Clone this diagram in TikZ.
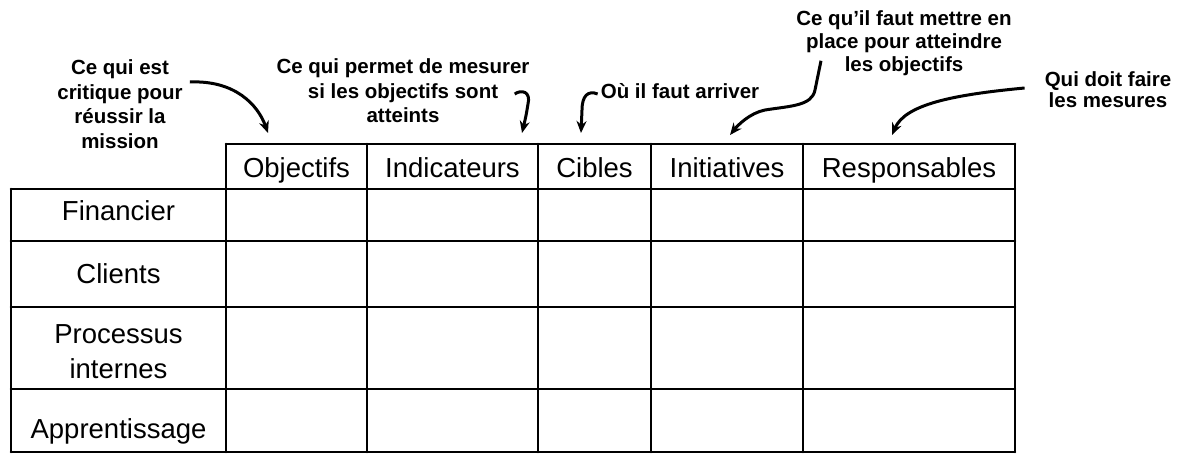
\documentclass[tikz,border=0pt]{standalone}
\usepackage{fontspec}
\setmainfont{Liberation Sans}
\usepackage{tikz}
\usetikzlibrary{arrows.meta, positioning}

\begin{document}
\begin{tikzpicture}[
    x=1pt, y=-1pt,
    cell/.style={inner sep=0pt, anchor=base, align=center, font=\fontsize{27.5}{35}\selectfont},
    annot/.style={inner sep=0pt, align=center, font=\fontsize{20.5}{24.5}\selectfont\bfseries},
    tableline/.style={line width=2.6pt, line cap=round},
    arrow/.style={-{Stealth[length=12pt, width=10pt]}, line width=3pt}
]
    \useasboundingbox (0,0) rectangle (1179,455);

    % grid of the table
    \draw[tableline] (226,144) -- (1015,144);
    \foreach \y in {189,241,307,389,452}
        \draw[tableline] (11,\y) -- (1015,\y);
    \draw[tableline] (11,189) -- (11,452);
    \foreach \x in {226,367,538,651,803,1015}
        \draw[tableline] (\x,144) -- (\x,452);

    % column heads
    \node[cell] (obj) at (296.5,177) {Objectifs};
    \node[cell] (ind) at (452.5,177) {Indicateurs};
    \node[cell] (cib) at (594.5,177) {Cibles};
    \node[cell] (ini) at (727,177) {Initiatives};
    \node[cell] (resp) at (909,177) {Responsables};

    % row heads
    \node[cell] (fin) at (118.5,220) {Financier};
    \node[cell] (cli) at (118.5,283) {Clients};
    \node[cell] (proc) at (118.5,378) {Processus\\internes};
    \node[cell] (app) at (118.5,438) {Apprentissage};

    % comments above the table
    \node[annot] (crit) at (120,104) {Ce qui est\\critique pour\\réussir la\\mission};
    \node[annot] (mes) at (403,91) {Ce qui permet de mesurer\\si les objectifs sont\\atteints};
    \node[annot] (arr) at (680,91) {Où il faut arriver};
    \node[annot, font=\fontsize{20.5}{23}\selectfont\bfseries] (mett) at (904,43) {Ce qu’il faut mettre en\\place pour atteindre\\les objectifs};
    \node[annot, font=\fontsize{20.5}{21}\selectfont\bfseries] (qui) at (1108,90) {Qui doit faire\\les mesures};

    \coordinate (tobj) at (268,133);
    \coordinate (tind) at (522,133);
    \coordinate (tcib) at (581,133);
    \coordinate (tini) at (730,135);
    \coordinate (tresp) at (892,135);

    \draw[arrow] ([xshift=7pt, yshift=22pt]crit.east) .. controls (235,80) and (258,105) .. (tobj);
    \draw[arrow] ([xshift=-15pt, yshift=-3pt]mes.east) .. controls (522,89) and (531,92) .. (528,104) .. controls (526,116) .. (tind);
    \draw[arrow] ([xshift=-3pt, yshift=-3pt]arr.west) .. controls (588,90) and (582,96) .. (582,110) -- (tcib);
    \draw[arrow] ([xshift=-83pt, yshift=15pt]mett.south) -- (815,90) .. controls (812,106) and (790,106) .. (765,110) .. controls (750,113) and (738,125) .. (tini);
    \draw[arrow] ([xshift=-20pt, yshift=2pt]qui.west) .. controls (950,95) and (905,105) .. (tresp);
\end{tikzpicture}
\end{document}
